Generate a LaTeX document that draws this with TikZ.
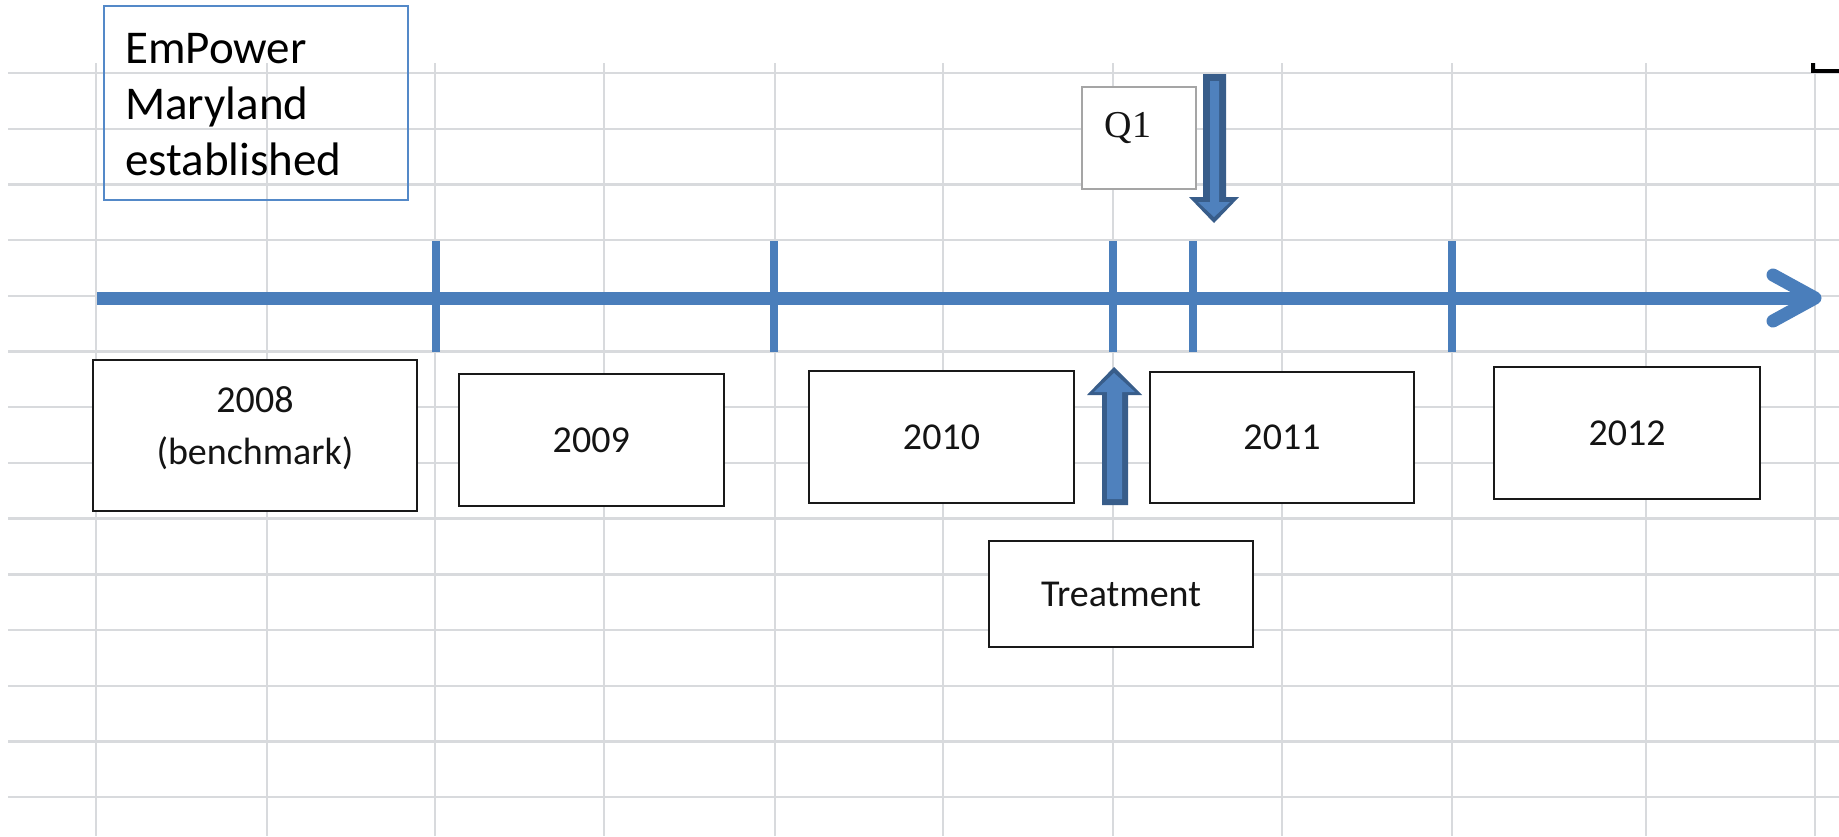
\documentclass[tikz,border=0pt]{standalone}
\usepackage{fontspec}
\setmainfont{Carlito}
\newfontfamily\qfont{Liberation Serif}
\definecolor{gridgray}{RGB}{216,218,221}
\definecolor{tlblue}{RGB}{74,126,187}
\definecolor{arrowdark}{RGB}{56,93,138}
\definecolor{arrowlight}{RGB}{79,129,189}
\definecolor{empblue}{RGB}{84,137,200}
\definecolor{q1gray}{RGB}{165,165,165}
\definecolor{boxblack}{RGB}{25,25,25}
\definecolor{textblack}{RGB}{20,20,20}
\begin{document}
\begin{tikzpicture}[x=1pt,y=-1pt,
  gridline/.style={draw=gridgray, line width=2.4pt},
  timeline/.style={draw=tlblue, line width=13pt},
  tickmark/.style={draw=tlblue, line width=7.5pt},
  yearbox/.style={draw=boxblack, line width=2.5pt, fill=white, inner sep=0pt,
    align=center, text=textblack, font=\fontsize{38}{52}\selectfont},
  yearlabel/.style={align=center, text=textblack, inner sep=0pt, font=\fontsize{38}{52}\selectfont},
  q1box/.style={draw=q1gray, line width=2pt, fill=white, inner sep=0pt},
  q1label/.style={font=\qfont\fontsize{38}{40}\selectfont, text=textblack, inner sep=0pt},
  empbox/.style={draw=empblue, line width=1.6pt, inner sep=0pt},
  emptext/.style={font=\fontsize{47}{56}\selectfont, align=left, inner sep=0pt, text=black},
  arrowouter/.style={fill=arrowdark},
  arrowinner/.style={fill=arrowlight}
]
\useasboundingbox (0,0) rectangle (1839,836);
\fill[white] (0,0) rectangle (1839,836);

% spreadsheet grid
\foreach \y in {73,128.7,184.4,240,295.8,351.5,407.2,462.9,518.6,574.3,630,685.7,741.4,797.1}
  \draw[gridline] (8,\y) -- (1839,\y);
\foreach \x in {96,267,435,604,775,943,1113,1282,1452,1646,1815}
  \draw[gridline] (\x,63) -- (\x,836);

% fragment at top right
\draw[black, line width=3.5pt] (1813,63) -- (1813,71) -- (1839,71);

% timeline
\coordinate (tl0) at (97,298);
\coordinate (tl1) at (1812,298);
\draw[timeline] (tl0) -- (tl1);
\draw[timeline, line cap=round, line join=round] (1773,275) -- (1815,298) -- (1773,321);
\foreach \x in {436,774,1113,1193,1452}
  \draw[tickmark] (\x,241) -- (\x,352);

% EmPower box
\node[empbox, minimum width=304pt, minimum height=194pt] (emp) at (256,103) {};
\node[emptext, anchor=base west] (emptxt) at (125,175) {EmPower\\Maryland\\established};

% Q1 box and arrow
\node[q1box, minimum width=114pt, minimum height=102pt,
  label={[q1label, xshift=-11pt, yshift=10pt]center:Q1}] (q1) at (1139,138) {};
\fill[arrowouter] (1203,74) -- (1226,74) -- (1226,197) -- (1239,197) -- (1214,223) -- (1189,197) -- (1203,197) -- cycle;
\fill[arrowinner] (1210,81) -- (1219,81) -- (1219,202) -- (1230,202) -- (1214,217) -- (1198,202) -- (1210,202) -- cycle;

% year boxes
\node[yearbox, minimum width=324pt, minimum height=151pt,
  label={[yearlabel, yshift=7pt]center:{2008\\(benchmark)}}] (y2008) at (255,435.5) {};
\node[yearbox, minimum width=265pt, minimum height=132pt] (y2009) at (591.25,440) {2009};
\node[yearbox, minimum width=265pt, minimum height=132pt] (y2010) at (941.5,436.8) {2010};
\node[yearbox, minimum width=264pt, minimum height=131pt] (y2011) at (1282,437.5) {2011};
\node[yearbox, minimum width=266pt, minimum height=132pt] (y2012) at (1627,433) {2012};

% Treatment box and arrow
\node[yearbox, minimum width=264pt, minimum height=106pt] (treat) at (1121,594) {Treatment};
\fill[arrowouter] (1102,505) -- (1128,505) -- (1128,395) -- (1142,395) -- (1114,367) -- (1087,395) -- (1102,395) -- cycle;
\fill[arrowinner] (1107,499) -- (1122,499) -- (1122,392) -- (1135,392) -- (1114,373) -- (1094,392) -- (1107,392) -- cycle;
\end{tikzpicture}
\end{document}
